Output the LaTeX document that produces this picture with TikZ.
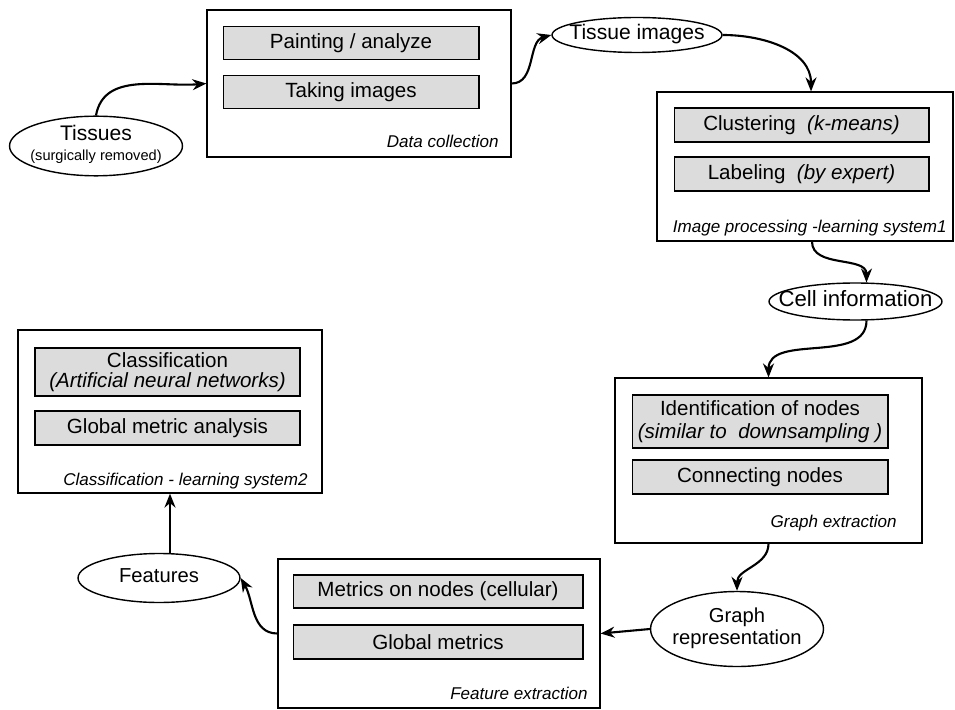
\documentclass[tikz,border=0pt]{standalone}
\usepackage{fontspec}
\setmainfont{Liberation Sans}
\usepackage{tikz}
\usetikzlibrary{shapes.geometric, arrows.meta, positioning, calc}
\definecolor{taskgray}{RGB}{220,220,220}
\newcommand{\blobtext}[1]{\makebox[0pt]{\begin{tabular}{@{}c@{}}#1\end{tabular}}}

\begin{document}
\begin{tikzpicture}[
    x=0.02cm, y=-0.02cm,
    stage/.style={rectangle, draw, line width=0.7pt, inner sep=0pt},
    task/.style={rectangle, draw, fill=taskgray, line width=0.6pt, minimum width=5.12cm, minimum height=0.66cm, font=\fontsize{11.7}{13}\selectfont, align=center, inner sep=0pt},
    tag/.style={anchor=base east, font=\fontsize{9.7}{11}\selectfont\itshape, inner sep=0pt},
    blob/.style={ellipse, draw, line width=0.8pt, font=\fontsize{11.5}{13}\selectfont, inner sep=0pt},
    arr/.style={-{Stealth[length=2.8mm, width=2.2mm]}, line width=1.2pt},
]
\useasboundingbox (0,0) rectangle (955,709);

% data collection
\node[stage, minimum width=6.08cm, minimum height=2.94cm] (dc) at (359,83.5) {};
\node[task] (paint) at (351,43) {Painting / analyze};
\node[task] (take) at (351,92) {Taking images};
\node[tag] (dctag) at (499,148) {Data collection};
\node[blob, minimum width=3.46cm, minimum height=1.16cm] (tis) at (96,146)
  {\blobtext{{\fontsize{12}{13}\selectfont Tissues}\\[-2pt]{\fontsize{8.3}{9}\selectfont (surgically removed)}}};
\node[blob, minimum width=3.4cm, minimum height=0.7cm] (timg) at (637,35) {\blobtext{{\fontsize{12}{13}\selectfont Tissue images}}};

% image processing
\node[stage, minimum width=5.92cm, minimum height=2.98cm] (ip) at (805,166.5) {};
\node[task, minimum width=5.1cm, minimum height=0.68cm] (clust) at (801.5,125) {Clustering\ \ \textit{(k-means)}};
\node[task, minimum width=5.1cm, minimum height=0.68cm] (lab) at (801.5,174) {Labeling\ \ \textit{(by expert)}};
\node[tag] (iptag) at (947,233) {Image processing -learning system1};
\node[blob, minimum width=3.46cm, minimum height=0.74cm] (cell) at (855.5,301.5) {\blobtext{{\fontsize{12.6}{14}\selectfont Cell information}}};

% graph extraction
\node[stage, minimum width=6.14cm, minimum height=3.3cm] (ge) at (768.5,460.5) {};
\node[task, minimum height=1.06cm] (ident) at (760,421.5) {Identification of nodes\\\textit{(similar to\ \ downsampling )}};
\node[task, minimum height=0.68cm] (conn) at (760,477) {Connecting nodes};
\node[tag] (getag) at (897,527) {Graph extraction};
\node[blob, minimum width=3.46cm, minimum height=1.5cm] (grep) at (737,629) {\blobtext{Graph\\representation}};

% feature extraction
\node[stage, minimum width=6.44cm, minimum height=2.98cm] (fe) at (439,633.5) {};
\node[task, minimum width=5.8cm] (metr) at (438,591.5) {Metrics on nodes (cellular)};
\node[task, minimum width=5.8cm, minimum height=0.68cm] (glob) at (438,642) {Global metrics};
\node[tag] (fetag) at (588,699) {Feature extraction};
\node[blob, minimum width=3.24cm, minimum height=0.98cm] (feat) at (159,578) {\blobtext{Features}};

% classification
\node[stage, minimum width=6.08cm, minimum height=3.26cm] (cls) at (170,411.5) {};
\node[task, minimum width=5.3cm, minimum height=0.96cm, font=\fontsize{11.7}{11.5}\selectfont] (ann) at (167.5,372) {Classification\\\textit{(Artificial neural networks)}};
\node[task, minimum width=5.3cm, minimum height=0.68cm] (gma) at (167.5,428) {Global metric analysis};
\node[tag] (clstag) at (308,485) {Classification - learning system2};

\draw[arr] (tis.north) to[out=80, in=185] (dc.west);
\draw[arr] (dc.east) to[out=0, in=195] (timg.west);
\draw[arr] (timg.east) to[out=0, in=90] ([xshift=0.12cm]ip.north);
\draw[arr] ([xshift=0.14cm]ip.south) to[out=-90, in=90] (cell.60);
\draw[arr] (cell.-60) to[out=-90, in=90] (ge.north);
\draw[arr] (ge.south) to[out=-90, in=90] (grep.north);
\draw[arr] (grep.west) -- (fe.east);
\draw[arr] (fe.west) to[out=180, in=-60] (feat.east);
\draw[arr] (cls.south |- feat.north) -- (cls.south);
\end{tikzpicture}
\end{document}
